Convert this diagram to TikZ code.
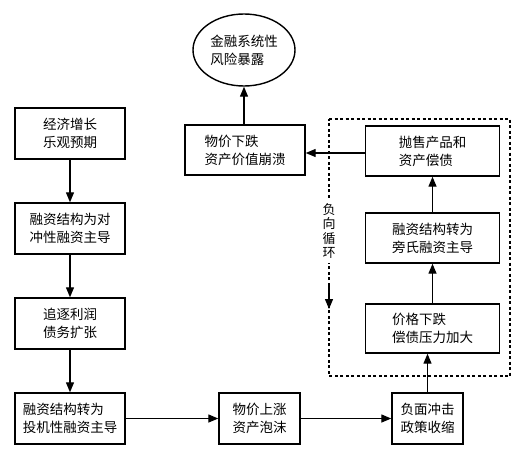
\documentclass[tikz,border=0pt]{standalone}
\usepackage{fontspec}
\newfontfamily\cjk{Noto Sans CJK SC}
\usetikzlibrary{arrows.meta,shapes.geometric}
\begin{document}
\begin{tikzpicture}[x=1pt,y=-1pt,
  every node/.style={font=\cjk\fontsize{13.5}{18}\selectfont},
  boxnode/.style={draw,line width=1.4pt,inner sep=0pt,align=left},
  arr/.style={line width=1.3pt,-{Triangle[length=10pt,width=8pt]}},
  loopline/.style={dashed,line width=1.3pt,dash pattern=on 3pt off 2.5pt}]
\useasboundingbox (0,0) rectangle (524,455);
% left column
\node[boxnode,minimum width=110pt,minimum height=51pt] (a) at (70,133.5) {经济增长\\乐观预期};
\node[boxnode,minimum width=110pt,minimum height=51pt] (b) at (70,228.5) {融资结构为对\\冲性融资主导};
\node[boxnode,minimum width=110pt,minimum height=51pt] (c) at (70,323.5) {追逐利润\\债务扩张};
\node[boxnode,minimum width=110pt,minimum height=51pt] (d) at (70,418.5) {融资结构转为\\投机性融资主导};
% bottom row
\node[boxnode,minimum width=81pt,minimum height=51pt] (e) at (259.5,418.5) {物价上涨\\资产泡沫};
\node[boxnode,minimum width=71pt,minimum height=51pt] (f) at (427.5,418.5) {负面冲击\\政策收缩};
% right column
\node[boxnode,minimum width=134pt,minimum height=49pt] (g) at (432.5,328.5) {价格下跌\\偿债压力加大};
\node[boxnode,minimum width=134pt,minimum height=50pt] (h) at (432.5,238) {融资结构转为\\旁氏融资主导};
\node[boxnode,minimum width=134pt,minimum height=50pt] (i) at (432.5,151) {抛售产品和\\资产偿债};
% top
\node[boxnode,minimum width=120pt,minimum height=50pt] (j) at (245,150) {物价下跌\\资产价值崩溃};
\node[draw,ellipse,line width=1.4pt,minimum width=102pt,minimum height=72pt,inner sep=0pt,align=left] (k) at (244,50) {金融系统性\\风险暴露};
% dashed loop frame
\coordinate (tl) at (329,119);
\coordinate (br) at (510,376);
\draw[loopline] (tl) -- (tl -| br) -- (br) -- (br -| tl) -- cycle;
\node[fill=white,inner xsep=1pt,inner ysep=4pt,align=center,font=\cjk\fontsize{13}{14.5}\selectfont] (loop) at (329,231) {负\\向\\循\\环};
\coordinate (tipstart) at (329,285);
\coordinate (tipend) at (329,309);
\draw[loopline,-{Triangle[length=10pt,width=8pt]}] (tipstart) -- (tipend);
% arrows
\draw[arr] (a) -- (b);
\draw[arr] (b) -- (c);
\draw[arr] (c) -- (d);
\draw[arr] (d) -- (e);
\draw[arr] (e) -- (f);
\draw[arr] (f.north) -- (f.north |- g.south);
\draw[arr] (g) -- (h);
\draw[arr] (h) -- (i);
\draw[arr] (i.west |- 0,153) -- (j.east |- 0,153);
\draw[arr] (j.north -| k) -- (k);
\end{tikzpicture}
\end{document}
